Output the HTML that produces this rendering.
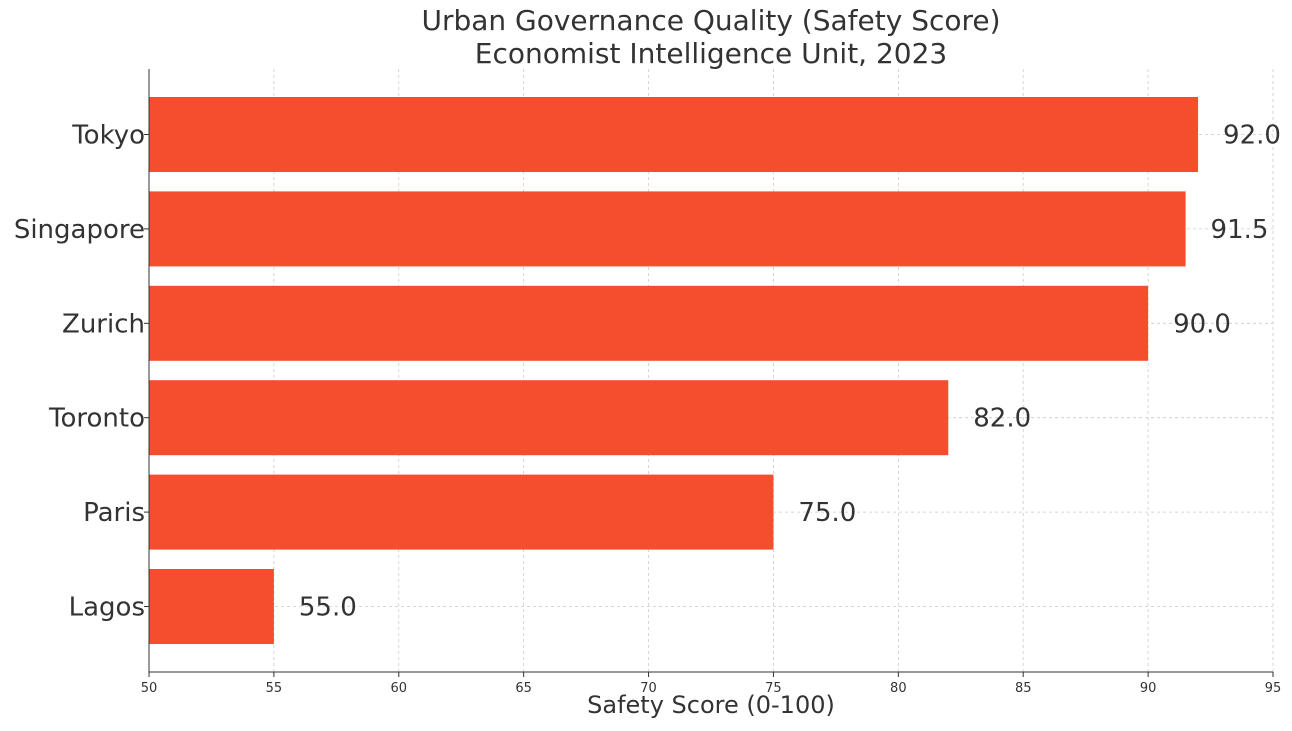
<!DOCTYPE html>
<html><head><meta charset="utf-8"><style>
body{margin:0;background:#fff;}
svg text{font-family:"DejaVu Sans","Liberation Sans",sans-serif;fill:#333;}
</style></head><body>
<svg id="chart" width="1292" height="726" xmlns="http://www.w3.org/2000/svg">
<text x="711" y="30" font-size="28" text-anchor="middle">Urban Governance Quality (Safety Score)</text>
<text x="711" y="63" font-size="28" text-anchor="middle">Economist Intelligence Unit, 2023</text>
<g id="grid"></g><g id="bars"></g><g id="axes"></g>
<text x="711" y="713" font-size="24" text-anchor="middle">Safety Score (0-100)</text>
</svg>
<script>
const categories=["Tokyo","Singapore","Zurich","Toronto","Paris","Lagos"];
const values=[92.0,91.5,90.0,82.0,75.0,55.0];
const xTicks=[50,55,60,65,70,75,80,85,90,95];
const L=149,R=1273,T=69,B=672,xmin=50,xmax=95;
const x=v=>L+(v-xmin)/(xmax-xmin)*(R-L);
const band=94.4,first=T+65.5;
const y=i=>first+i*band;
const NS="http://www.w3.org/2000/svg";
function mk(tag,attrs,parent,txt){const e=document.createElementNS(NS,tag);for(const k in attrs)e.setAttribute(k,attrs[k]);if(txt!==undefined)e.textContent=txt;document.getElementById(parent).appendChild(e);return e;}
xTicks.forEach(t=>{
  const g=mk("line",{x1:x(t),x2:x(t),y1:T,y2:B,stroke:"#ccc","stroke-dasharray":"3,3","stroke-width":0.8},"grid");
  
  
  const tk=mk("line",{x1:x(t),x2:x(t),y1:B,y2:B+5,stroke:"#333"},"axes");
  
  
  const lb=mk("text",{x:x(t),y:B+20,"font-size":13,"text-anchor":"middle"},"axes",t);
  
  
});
categories.forEach((c,i)=>{
  const gl=mk("line",{x1:L,x2:R,y1:y(i),y2:y(i),stroke:"#ccc","stroke-dasharray":"3,3","stroke-width":0.8},"grid");
  
  
  const r=mk("rect",{x:L,y:y(i)-37.5,width:x(values[i])-L,height:75,fill:"#F44E2E"},"bars");
  
  
  const v=mk("text",{x:x(values[i]+1),y:y(i)+9,"font-size":26},"bars",values[i].toFixed(1));
  
  
  const tk=mk("line",{x1:L-5,x2:L,y1:y(i),y2:y(i),stroke:"#333"},"axes");
  
  
  const lb=mk("text",{x:L-4,y:y(i)+9,"font-size":26,"text-anchor":"end"},"axes",c);
  
  
});
const ax=mk("line",{x1:L,x2:R,y1:B,y2:B,stroke:"#333","stroke-width":1},"axes");


const ay=mk("line",{x1:L,x2:L,y1:T,y2:B,stroke:"#333","stroke-width":1},"axes");


</script>
</body></html>
